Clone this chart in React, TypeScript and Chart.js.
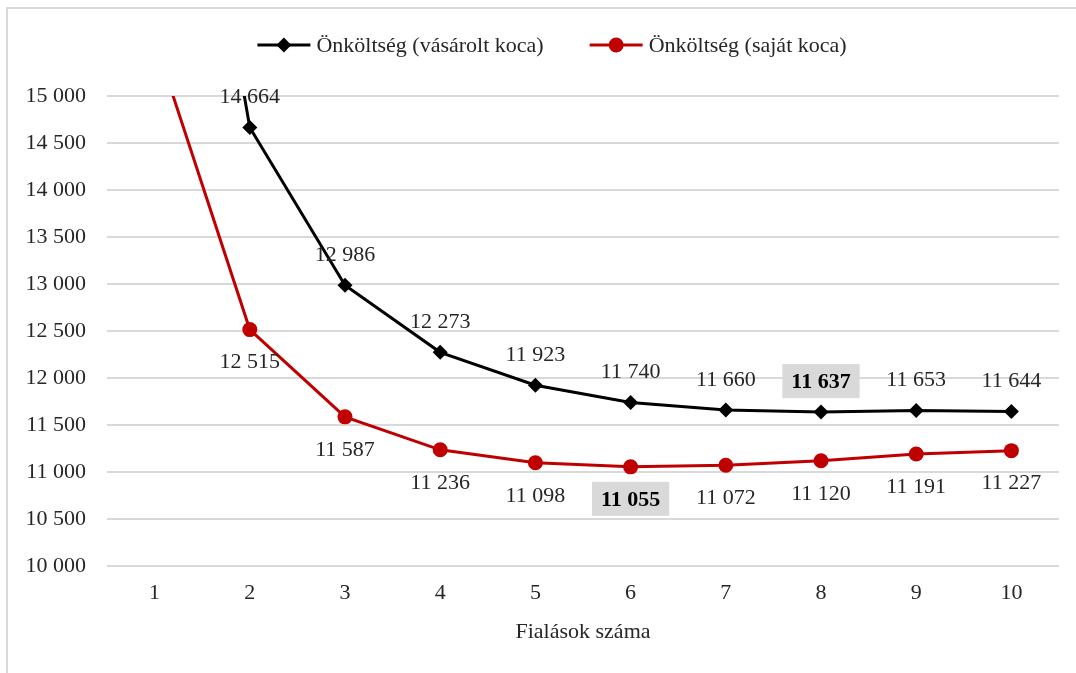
import { useEffect, useRef } from "react";
import { Chart, registerables } from "chart.js";

Chart.register(...registerables);

// Number of farrowings per sow
const farrowings = ["1", "2", "3", "4", "5", "6", "7", "8", "9", "10"];

// Cost per piglet (Ft) – purchased sow
const costPurchasedSow = [20500, 14664, 12986, 12273, 11923, 11740, 11660, 11637, 11653, 11644];

// Cost per piglet (Ft) – own-bred sow
const costOwnSow = [15600, 12515, 11587, 11236, 11098, 11055, 11072, 11120, 11191, 11227];

const seriesNames = ["Önköltség (vásárolt koca)", "Önköltség (saját koca)"];
const axisTitle = "Fialások száma";

const yMin = 10000;
const yMax = 15000;
const yStep = 500;

const FONT = "'Liberation Serif', 'Times New Roman', serif";
const TEXT = "#262626";
const SIZE = 22;

const fmt = (v: number) => String(Math.round(v)).replace(/\B(?=(\d{3})+(?!\d))/g, " ");

const argMin = (arr: number[]) => arr.reduce((best, v, i) => (v < arr[best] ? i : best), 0);

// Value labels: above the purchased-sow line, below the own-sow line; the minimum of each
// series is set in bold on a grey box.
const valueLabels = {
  id: "valueLabels",
  afterDatasetsDraw(chart: any) {
    const ctx = chart.ctx;
    ctx.save();
    chart.data.datasets.forEach((ds: any, di: number) => {
      const meta = chart.getDatasetMeta(di);
      const values = ds.data as number[];
      const minIdx = argMin(values);
      const offset = di === 0 ? -31 : 32;
      values.forEach((v, i) => {
        if (v > yMax || v < yMin) return;
        const pt = meta.data[i];
        const x = pt.x;
        const y = pt.y + offset;
        const bold = i === minIdx;
        ctx.font = `${bold ? "bold " : ""}${SIZE}px ${FONT}`;
        ctx.textAlign = "center";
        ctx.textBaseline = "middle";
        const text = fmt(v);
        if (bold) {
          const w = ctx.measureText(text).width + 18;
          const h = 34;
          ctx.fillStyle = "#d9d9d9";
          ctx.fillRect(x - w / 2, y - h / 2, w, h);
          ctx.fillStyle = "#000";
        } else {
          ctx.fillStyle = TEXT;
        }
        ctx.fillText(text, x, y + 1);
      });
    });
    ctx.restore();
  },
};

// Legend with a line-and-marker swatch per series, centred above the plot
const lineLegend = {
  id: "lineLegend",
  afterDraw(chart: any) {
    const ctx = chart.ctx;
    const y = 45;
    const swatch = 53;
    const gap = 6;
    const between = 46;
    ctx.save();
    ctx.font = `${SIZE}px ${FONT}`;
    ctx.textBaseline = "middle";
    ctx.textAlign = "left";
    const items = chart.data.datasets.map((ds: any) => ({
      ds,
      w: swatch + gap + ctx.measureText(ds.label).width,
    }));
    const total = items.reduce((s: number, it: any) => s + it.w, 0) + between * (items.length - 1);
    let x = 552 - total / 2;
    items.forEach(({ ds, w }: any) => {
      ctx.strokeStyle = ds.borderColor;
      ctx.lineWidth = ds.borderWidth;
      ctx.beginPath();
      ctx.moveTo(x, y);
      ctx.lineTo(x + swatch, y);
      ctx.stroke();
      const cx = x + swatch / 2;
      const r = ds.pointRadius;
      ctx.fillStyle = ds.pointBackgroundColor;
      ctx.beginPath();
      if (ds.pointStyle === "rectRot") {
        ctx.moveTo(cx, y - r);
        ctx.lineTo(cx + r, y);
        ctx.lineTo(cx, y + r);
        ctx.lineTo(cx - r, y);
        ctx.closePath();
      } else {
        ctx.arc(cx, y, r, 0, Math.PI * 2);
      }
      ctx.fill();
      ctx.fillStyle = TEXT;
      ctx.fillText(ds.label, x + swatch + gap, y + 1);
      x += w + between;
    });
    ctx.restore();
  },
};

export default function App() {
  const canvasRef = useRef<HTMLCanvasElement | null>(null);

  useEffect(() => {
    if (!canvasRef.current) return;
    const chart = new Chart(canvasRef.current, {
      type: "line",
      data: {
        labels: farrowings,
        datasets: [
          {
            label: seriesNames[0],
            data: costPurchasedSow,
            borderColor: "#000000",
            backgroundColor: "#000000",
            pointBackgroundColor: "#000000",
            pointBorderColor: "#000000",
            borderWidth: 3,
            pointStyle: "rectRot",
            pointRadius: 7.5,
            pointBorderWidth: 0,
            tension: 0,
          },
          {
            label: seriesNames[1],
            data: costOwnSow,
            borderColor: "#c00000",
            backgroundColor: "#c00000",
            pointBackgroundColor: "#c00000",
            pointBorderColor: "#c00000",
            borderWidth: 3,
            pointStyle: "circle",
            pointRadius: 7.5,
            pointBorderWidth: 0,
            tension: 0,
          },
        ],
      },
      options: {
        responsive: false,
        animation: false,
        layout: { padding: { top: 96, right: 17, bottom: 0, left: 0 } },
        plugins: {
          legend: { display: false },
          tooltip: { enabled: false },
          title: { display: false },
        },
        scales: {
          x: {
            offset: true,
            grid: { display: false, drawTicks: false },
            border: { display: false },
            ticks: { color: TEXT, font: { family: FONT, size: SIZE }, padding: 14 },
            title: {
              display: true,
              text: axisTitle,
              color: TEXT,
              font: { family: FONT, size: SIZE },
              padding: { top: 0, bottom: 28 },
            },
            afterFit: (s: any) => {
              s.height = 107;
            },
          },
          y: {
            min: yMin,
            max: yMax,
            grid: { color: "#d9d9d9", lineWidth: 2, drawTicks: false },
            border: { display: false },
            ticks: {
              stepSize: yStep,
              color: TEXT,
              padding: 21,
              font: { family: FONT, size: SIZE },
              callback: (v: any) => fmt(Number(v)),
            },
            afterFit: (s: any) => {
              s.width = 107;
            },
          },
        },
      },
      plugins: [valueLabels, lineLegend],
    });
    return () => chart.destroy();
  }, []);

  return (
    <div style={{ position: "fixed", left: 0, top: 0, width: 1076, height: 673, background: "#fff", overflow: "hidden" }}>
      <div
        style={{
          position: "absolute",
          left: 6,
          top: 7,
          width: 1070,
          height: 666,
          borderLeft: "2px solid #d9d9d9",
          borderTop: "2px solid #d9d9d9",
          boxSizing: "border-box",
        }}
      />
      <canvas ref={canvasRef} width={1076} height={673} style={{ position: "absolute", left: 0, top: 0 }} />
    </div>
  );
}
